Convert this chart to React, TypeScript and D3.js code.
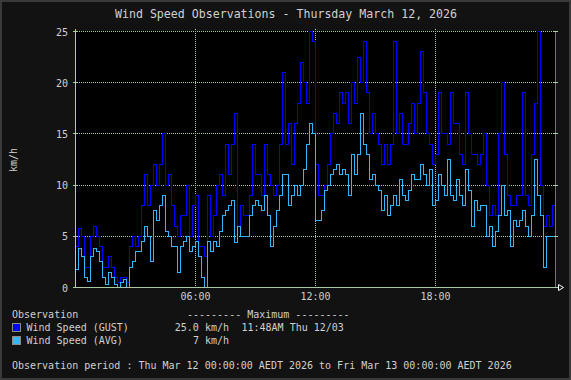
import React from "react";
import * as d3 from "d3";

const TITLE = "Wind Speed Observations - Thursday March 12, 2026";
const yTicks = [0, 5, 10, 15, 20, 25];
const xTicks = [6, 12, 18];
const xTickLabels = ["06:00", "12:00", "18:00"];

// Gust values (km/h), one per 9-minute slot, 00:00 -> 24:00
const gust = [
  4, 5.8, 5, 2, 2, 5, 6, 5, 4, 2, 2, 3, 2, 1, 0.5, 1, 1, 0.5, 4, 5, 4, 5, 8, 11, 8, 10, 12, 10, 12, 15, 10, 11, 8, 6, 5, 7, 7, 10, 5, 8,
  9, 4, 4, 3, 9, 5, 7, 10, 11, 9, 14, 11, 14, 17, 6, 8, 7, 7, 9, 14, 11, 11, 9, 14, 11, 10, 9, 10, 14, 21, 14, 16, 12, 16, 18, 22, 20, 18, 25, 24,
  12, 9, 9, 10, 12, 15, 17, 16, 19, 18, 19, 16, 20, 18, 22.5, 20, 24, 19, 15, 17, 15, 14, 12, 14, 12, 14, 24, 15, 17, 14, 14, 16, 18, 15, 18, 23, 19, 15, 14, 12,
  13, 19, 15, 15, 14, 19, 16, 16, 13, 12, 19, 15, 13, 13, 12, 13, 15, 10, 7, 8, 7, 15, 20, 13, 9, 8, 8, 9, 9, 19, 9, 8, 13, 18, 25, 10, 6, 7, 6, 8,
];

// Average values (km/h)
const avg = [
  1.8, 3.8, 3, 1, 0.6, 3, 3.8, 3.5, 2.5, 1, 0.3, 1.5, 1, 0.3, 0, 0.5, 0.8, 0, 2, 2.5, 3.5, 3.5, 4.5, 6, 5, 2.5, 7.5, 6.5, 8, 9, 5.5, 5, 4, 4, 1.5, 4, 4.5, 5, 3.5, 4,
  4.5, 3, 1, 0, 4.5, 3.5, 4.5, 4, 5.5, 7, 7.5, 8, 8.5, 4.4, 6, 5, 5, 5, 7, 8, 8.5, 8, 7.5, 9, 7, 4, 6, 7.5, 9, 11, 11, 8, 9, 10, 9, 10, 11.5, 14, 16, 15,
  6.5, 6.5, 7.5, 9.5, 10, 11, 11.5, 12, 11, 11.5, 11, 9, 13, 11, 13, 17, 14, 13, 10.5, 11, 10, 9.5, 7.5, 9, 7, 8, 9, 8, 10.5, 9, 8.5, 9.5, 11, 10.5, 10.5, 12, 11, 10, 11.5, 8,
  8.5, 11, 10, 9, 12.5, 9, 8.5, 10.5, 9, 8, 11.5, 9.5, 6, 8.5, 7.5, 8, 8, 5, 6, 4, 5.5, 7, 10, 7, 7.5, 4, 6.5, 6, 6.5, 7.5, 6, 5, 7, 12.5, 9, 7, 2, 5, 5, 5,
];

const legendRows = [
  { name: "Wind Speed (GUST)", max: "25.0 km/h", when: "11:48AM Thu 12/03", color: "#0000ff" },
  { name: "Wind Speed (AVG)", max: "7 km/h", when: "", color: "#33b8ff" },
];
const PERIOD = "Observation period : Thu Mar 12 00:00:00 AEDT 2026 to Fri Mar 13 00:00:00 AEDT 2026";

const W = 571;
const H = 380;
const X0 = 75;
const X1 = 555;
const Y0 = 31;
const Y1 = 287;
const FONT = "'DejaVu Sans Mono', monospace";
const TXT = "#d0d0d0";
const GRID = "#a6cf98";

export default function App() {
  const x = d3.scaleLinear().domain([0, 24]).range([X0, X1]);
  const y = d3.scaleLinear().domain([0, 25]).range([Y1, Y0]);

  const mk = (vals: number[]) => {
    const step = 24 / vals.length;
    const pts: [number, number][] = vals.map((v, i) => [i * step, v]);
    pts.push([24, vals[vals.length - 1]]);
    return d3
      .line<[number, number]>()
      .x((d) => Math.round(x(d[0])) + 0.5)
      .y((d) => Math.round(y(d[1])) + 0.5)
      .curve(d3.curveStepAfter)(pts) as string;
  };

  return (
    <svg
      width={W}
      height={H}
      style={{ position: "absolute", left: 0, top: 0, display: "block" }}
      fontFamily={FONT}
    >
      <rect x={0} y={0} width={W} height={H} fill="#121212" />
      <rect x={1} y={1} width={W - 2} height={H - 2} fill="none" stroke="#3a3a3a" strokeWidth={2} />

      <text x={286} y={18} textAnchor="middle" fill={TXT} fontSize={11.6}>
        {TITLE}
      </text>

      {/* plot area */}
      <rect x={X0} y={Y0} width={X1 - X0} height={Y1 - Y0} fill="#000" />

      {/* horizontal grid */}
      {yTicks.filter((t) => t > 0).map((t) => (
        <line
          key={"hg" + t}
          x1={X0}
          x2={X1}
          y1={Math.round(y(t)) + 0.5}
          y2={Math.round(y(t)) + 0.5}
          stroke={GRID}
          strokeDasharray="1,1"
          shapeRendering="crispEdges"
        />
      ))}
      {/* vertical grid */}
      {xTicks.map((t) => (
        <line
          key={"vg" + t}
          x1={Math.round(x(t)) + 0.5}
          x2={Math.round(x(t)) + 0.5}
          y1={Y0 - 2}
          y2={Y1}
          stroke={GRID}
          strokeDasharray="1,1"
          shapeRendering="crispEdges"
        />
      ))}

      {/* series */}
      <path d={mk(gust)} fill="none" stroke="#0000ff" strokeWidth={1} shapeRendering="crispEdges" />
      <path d={mk(avg)} fill="none" stroke="#33b8ff" strokeWidth={1} shapeRendering="crispEdges" />

      {/* axes */}
      <line x1={X0 + 0.5} x2={X0 + 0.5} y1={Y0 - 2} y2={Y1} stroke="#c4c88c" shapeRendering="crispEdges" />
      <line x1={X1 + 0.5} x2={X1 + 0.5} y1={Y0} y2={Y1} stroke="#7a7a34" shapeRendering="crispEdges" />
      <line x1={X0 - 2} x2={X1 + 3} y1={Y1 + 0.5} y2={Y1 + 0.5} stroke="#a8c8a0" shapeRendering="crispEdges" />
      <polygon
        points={`${X1 + 3.5},${Y1 - 2.5} ${X1 + 8.5},${Y1 + 0.5} ${X1 + 3.5},${Y1 + 3.5}`}
        fill="none"
        stroke="#ffffff"
        strokeWidth={1}
      />

      {yTicks.map((t) => (
        <g key={"yt" + t}>
          <line x1={X0 - 2} x2={X0 + 2} y1={Math.round(y(t)) + 0.5} y2={Math.round(y(t)) + 0.5} stroke="#a8d09a" shapeRendering="crispEdges" />
          <line x1={X1 - 1} x2={X1 + 3} y1={Math.round(y(t)) + 0.5} y2={Math.round(y(t)) + 0.5} stroke="#a8d09a" shapeRendering="crispEdges" />
          <text x={68} y={y(t) + 4.5} textAnchor="end" fill={TXT} fontSize={10}>
            {t}
          </text>
        </g>
      ))}
      {xTicks.map((t, i) => (
        <text key={"xt" + t} x={x(t) + 0.5} y={300} textAnchor="middle" fill={TXT} fontSize={10}>
          {xTickLabels[i]}
        </text>
      ))}

      <text transform="translate(17,160) rotate(-90)" textAnchor="middle" fill={TXT} fontSize={10}>
        km/h
      </text>

      {/* legend */}
      <text x={12} y={318} fill={TXT} fontSize={10} xmlSpace="preserve">
        Observation
      </text>
      <text x={187} y={318} fill={TXT} fontSize={10} xmlSpace="preserve">
        --------- Maximum ---------
      </text>
      {legendRows.map((r, i) => {
        const by = 331 + i * 13;
        return (
          <g key={r.name}>
            <rect x={12.5} y={by - 7.5} width={8} height={8} fill={r.color} stroke="#8a8a8a" strokeWidth={1} />
            <text x={26.5} y={by} fill={TXT} fontSize={10}>
              {r.name}
            </text>
            <text x={229} y={by} textAnchor="end" fill={TXT} fontSize={10}>
              {r.max}
            </text>
            <text x={241.5} y={by} fill={TXT} fontSize={10}>
              {r.when}
            </text>
          </g>
        );
      })}
      <text x={12} y={369} fill={TXT} fontSize={10} xmlSpace="preserve">
        {PERIOD}
      </text>
    </svg>
  );
}
